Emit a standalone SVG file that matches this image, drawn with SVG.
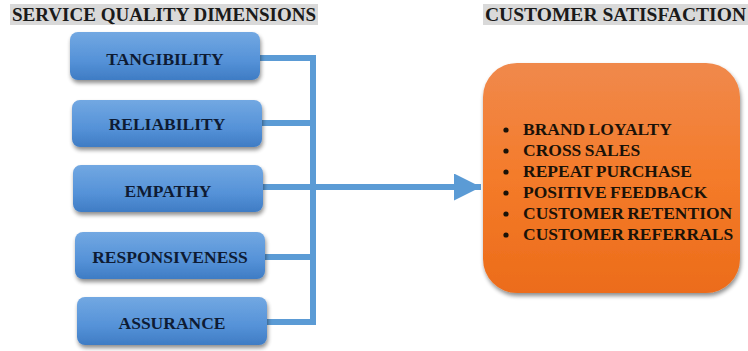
<svg xmlns="http://www.w3.org/2000/svg" width="748" height="351" viewBox="0 0 748 351">
  <defs>
    <linearGradient id="blueFill" x1="0" y1="0" x2="0" y2="1">
      <stop offset="0" stop-color="#72A8E2"/>
      <stop offset="0.6" stop-color="#5592D8"/>
      <stop offset="1" stop-color="#3F7CC4"/>
    </linearGradient>
    <linearGradient id="orangeFill" x1="0" y1="0" x2="0" y2="1">
      <stop offset="0" stop-color="#F0894C"/>
      <stop offset="0.5" stop-color="#F47B2A"/>
      <stop offset="1" stop-color="#EC6C1A"/>
    </linearGradient>
    <filter id="shadow" x="-10%" y="-10%" width="125%" height="135%">
      <feGaussianBlur in="SourceAlpha" stdDeviation="2"/>
      <feOffset dx="1" dy="3" result="b"/>
      <feComponentTransfer><feFuncA type="linear" slope="0.45"/></feComponentTransfer>
      <feMerge><feMergeNode/><feMergeNode in="SourceGraphic"/></feMerge>
    </filter>
    <marker id="arrowHead" viewBox="0 0 10 10" refX="10" refY="5" markerUnits="userSpaceOnUse" markerWidth="27" markerHeight="27" orient="auto">
      <path d="M0,0 L10,5 L0,10 Z" fill="#5B9BD5"/>
    </marker>
    <style>
      .heading-bg { fill: #D9D9D9; }
      .heading { font-family: "Liberation Serif", "Times New Roman", serif; font-weight: bold; font-size: 19px; fill: #1A1A1A; }
      .box { fill: url(#blueFill); filter: url(#shadow); }
      .label { font-family: "Liberation Serif", "Times New Roman", serif; font-weight: bold; font-size: 17.5px; fill: #0E1B33; text-anchor: middle; }
      .link { fill: none; stroke: #5B9BD5; stroke-width: 6; stroke-linejoin: miter; }
      .item { font-family: "Liberation Serif", "Times New Roman", serif; font-weight: bold; font-size: 17.5px; word-spacing: -1px; fill: #1A1208; }
      .bullet { fill: #1A1208; }
    </style>
  </defs>

  <rect width="748" height="351" fill="#FFFFFF"/>

  <!-- column headings -->
  <g id="heading-dimensions">
    <rect class="heading-bg" x="10" y="4" width="308" height="21"/>
    <text class="heading" x="12" y="21" textLength="304" lengthAdjust="spacingAndGlyphs">SERVICE QUALITY DIMENSIONS</text>
  </g>
  <g id="heading-satisfaction">
    <rect class="heading-bg" x="483" y="4" width="265" height="21"/>
    <text class="heading" x="485" y="21" textLength="261" lengthAdjust="spacingAndGlyphs">CUSTOMER SATISFACTION</text>
  </g>

  <!-- connectors -->
  <g id="connectors">
    <path class="link" d="M260,58 H313 V322 H267"/>
    <line class="link" x1="262" y1="123" x2="313" y2="123"/>
    <line class="link" x1="265" y1="257" x2="313" y2="257"/>
    <line class="link" x1="263" y1="187" x2="481" y2="187" stroke-width="7" marker-end="url(#arrowHead)"/>
  </g>

  <!-- dimension nodes -->
  <g id="node-tangibility">
    <rect class="box" x="70" y="32" width="190" height="48" rx="8"/>
    <text class="label" x="165" y="65">TANGIBILITY</text>
  </g>
  <g id="node-reliability">
    <rect class="box" x="72" y="100" width="190" height="47" rx="8"/>
    <text class="label" x="167" y="130">RELIABILITY</text>
  </g>
  <g id="node-empathy">
    <rect class="box" x="73" y="165" width="190" height="47" rx="8"/>
    <text class="label" x="168" y="197">EMPATHY</text>
  </g>
  <g id="node-responsiveness">
    <rect class="box" x="75" y="232" width="190" height="47" rx="8"/>
    <text class="label" x="170" y="263">RESPONSIVENESS</text>
  </g>
  <g id="node-assurance">
    <rect class="box" x="77" y="297" width="190" height="48" rx="8"/>
    <text class="label" x="172" y="329">ASSURANCE</text>
  </g>

  <!-- outcome node -->
  <g id="node-satisfaction">
    <rect x="483" y="63" width="257" height="230" rx="34" fill="url(#orangeFill)" filter="url(#shadow)"/>
    <circle class="bullet" cx="506" cy="130" r="2.6"/>
    <circle class="bullet" cx="506" cy="151" r="2.6"/>
    <circle class="bullet" cx="506" cy="172" r="2.6"/>
    <circle class="bullet" cx="506" cy="193" r="2.6"/>
    <circle class="bullet" cx="506" cy="214" r="2.6"/>
    <circle class="bullet" cx="506" cy="235" r="2.6"/>
    <text class="item" x="523" y="135">BRAND LOYALTY</text>
    <text class="item" x="523" y="156">CROSS SALES</text>
    <text class="item" x="523" y="177">REPEAT PURCHASE</text>
    <text class="item" x="523" y="198">POSITIVE FEEDBACK</text>
    <text class="item" x="523" y="219">CUSTOMER RETENTION</text>
    <text class="item" x="523" y="240">CUSTOMER REFERRALS</text>
  </g>
</svg>
